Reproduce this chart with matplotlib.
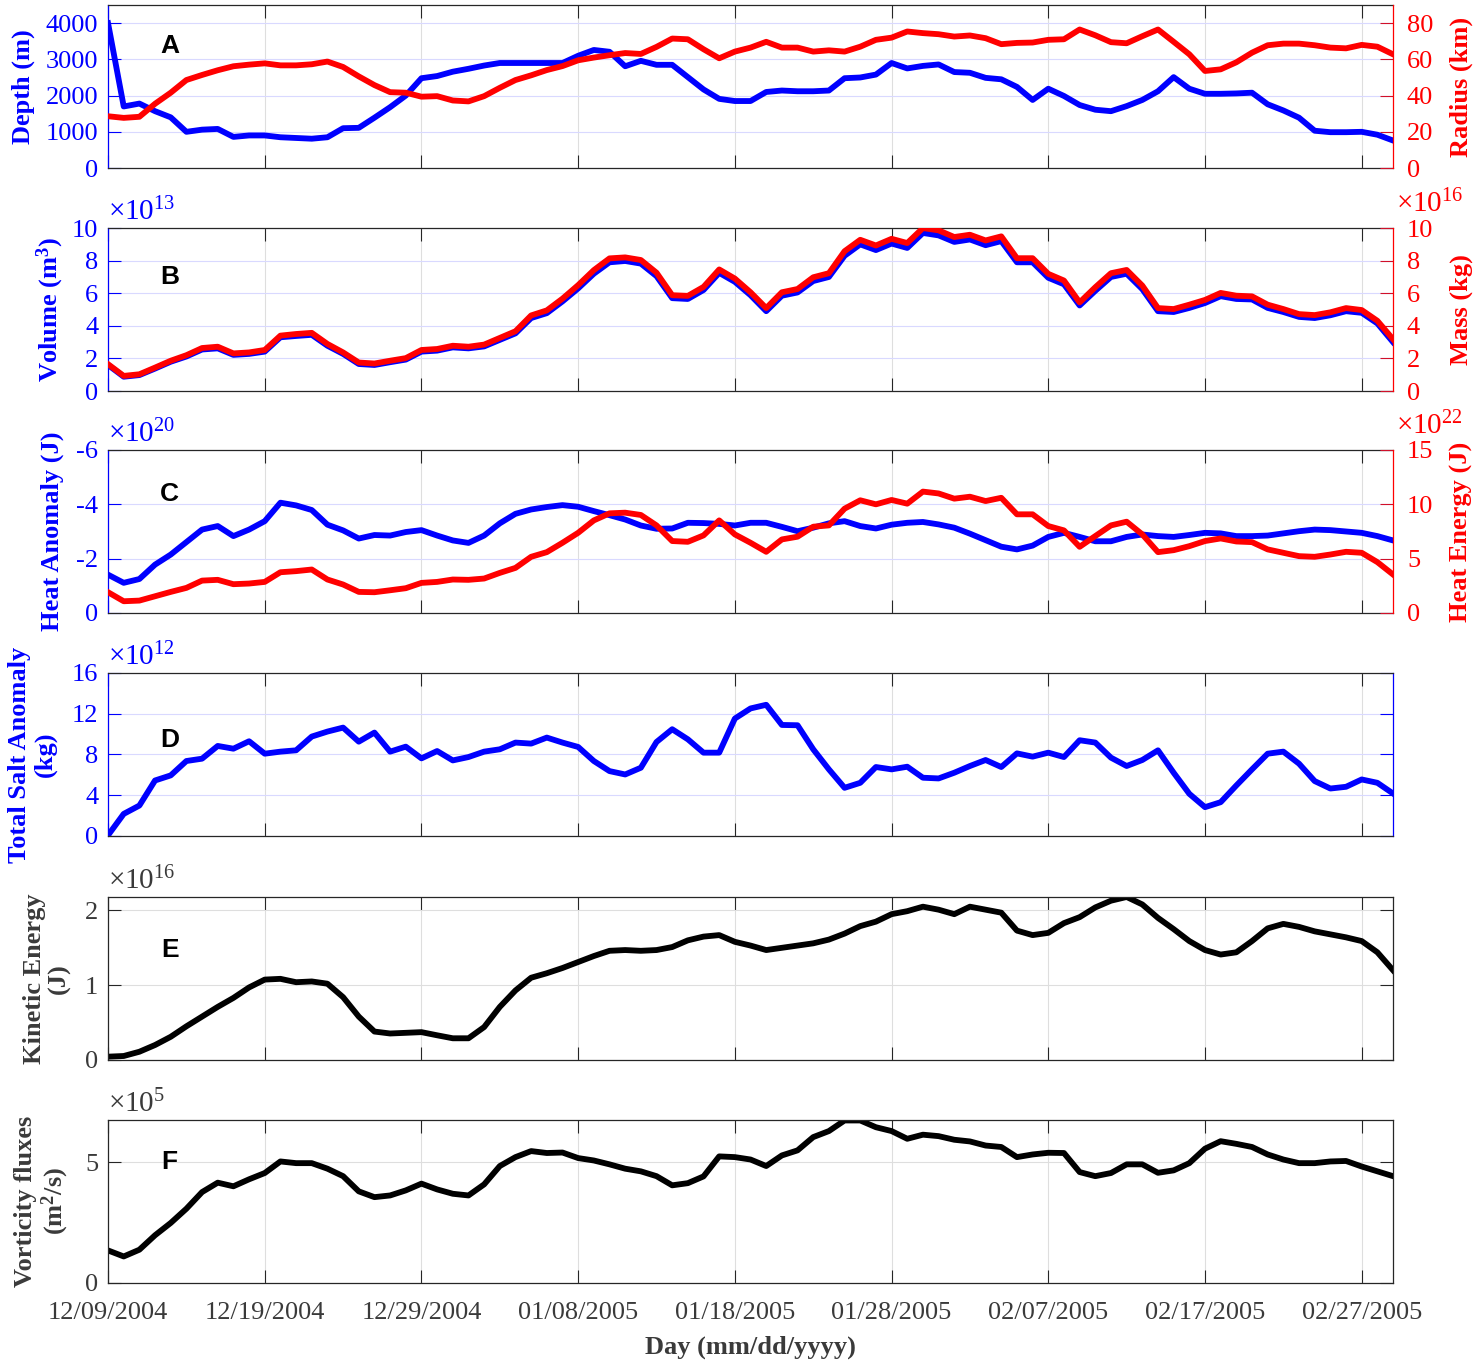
import numpy as np
import pandas as pd
import matplotlib
matplotlib.use('Agg')
import matplotlib.pyplot as plt
import matplotlib.dates as mdates
from matplotlib.ticker import FuncFormatter

plt.rcParams['font.family'] = ['Liberation Serif', 'DejaVu Serif']
plt.rcParams['mathtext.fontset'] = 'custom'
plt.rcParams['mathtext.rm'] = 'Liberation Serif'
plt.rcParams['mathtext.it'] = 'Liberation Serif:italic'
plt.rcParams['mathtext.bf'] = 'Liberation Serif:bold'
plt.rcParams['axes.unicode_minus'] = False

# daily values, 12/09/2004 .. 03/01/2005
days = pd.date_range('2004-12-09', periods=83, freq='D')
tick_days = pd.date_range('2004-12-09', '2005-02-27', freq='10D')

depth = [4000, 1700, 1780, 1570, 1400, 1000, 1060, 1080, 860, 900,
         900, 850, 830, 810, 850, 1100, 1110, 1390, 1680, 2000,
         2480, 2540, 2660, 2740, 2830, 2900, 2900, 2900, 2900, 2900,
         3100, 3260, 3210, 2810, 2960, 2850, 2850, 2510, 2170, 1910,
         1850, 1850, 2100, 2140, 2120, 2120, 2140, 2480, 2500, 2580,
         2900, 2750, 2820, 2860, 2650, 2630, 2490, 2450, 2240, 1880,
         2190, 1990, 1740, 1610, 1570, 1710, 1880, 2120, 2510, 2190,
         2050, 2050, 2060, 2080, 1760, 1590, 1390, 1030, 990, 990,
         1000, 920, 760]
radius = [28.6, 27.7, 28.3, 35.5, 41.6, 48.6, 51.4, 54.0, 56.2, 57.1,
          57.8, 56.7, 56.7, 57.3, 58.8, 55.8, 50.6, 45.8, 41.9, 41.6,
          39.4, 39.7, 37.3, 36.8, 39.7, 44.3, 48.6, 51.2, 54.1, 56.3,
          59.5, 61.0, 62.3, 63.5, 63.0, 66.9, 71.5, 71.1, 65.6, 60.6,
          64.3, 66.5, 69.7, 66.5, 66.5, 64.3, 65.0, 64.3, 67.0, 70.8,
          72.0, 75.4, 74.5, 73.9, 72.6, 73.2, 71.7, 68.4, 69.1, 69.3,
          70.8, 71.1, 76.5, 73.3, 69.5, 68.9, 72.8, 76.5, 69.7, 62.8,
          53.6, 54.5, 58.4, 63.7, 67.8, 68.7, 68.7, 67.8, 66.5, 66.1,
          68.0, 67.0, 62.8]

# x 1e13 m^3
volume = [1.6, 0.88, 0.98, 1.38, 1.8, 2.12, 2.55, 2.62, 2.22, 2.28,
          2.42, 3.3, 3.38, 3.45, 2.78, 2.28, 1.66, 1.6, 1.77, 1.93,
          2.42, 2.48, 2.68, 2.62, 2.74, 3.14, 3.54, 4.48, 4.78, 5.5,
          6.3, 7.2, 7.9, 7.98, 7.82, 7.05, 5.7, 5.65, 6.2, 7.25,
          6.7, 5.88, 4.9, 5.85, 6.05, 6.75, 7.0, 8.3, 9.0, 8.65,
          9.05, 8.78, 9.7, 9.55, 9.15, 9.3, 8.95, 9.2, 7.9, 7.9,
          6.95, 6.55, 5.25, 6.15, 7.0, 7.2, 6.25, 4.9, 4.85, 5.1,
          5.4, 5.82, 5.65, 5.62, 5.1, 4.85, 4.55, 4.48, 4.65, 4.9,
          4.8, 4.15, 3.0]
# x 1e16 kg
mass = [1.65, 0.93, 1.03, 1.44, 1.86, 2.2, 2.64, 2.72, 2.31, 2.37,
        2.52, 3.4, 3.5, 3.57, 2.89, 2.37, 1.75, 1.69, 1.86, 2.02,
        2.52, 2.58, 2.78, 2.72, 2.85, 3.26, 3.67, 4.64, 4.95, 5.67,
        6.5, 7.42, 8.14, 8.2, 8.04, 7.26, 5.88, 5.84, 6.39, 7.46,
        6.9, 6.06, 5.09, 6.06, 6.26, 6.98, 7.23, 8.58, 9.28, 8.93,
        9.34, 9.08, 10.0, 9.86, 9.45, 9.59, 9.24, 9.49, 8.15, 8.15,
        7.19, 6.78, 5.44, 6.37, 7.23, 7.43, 6.47, 5.09, 5.03, 5.3,
        5.59, 6.02, 5.85, 5.81, 5.3, 5.03, 4.72, 4.66, 4.83, 5.09,
        4.97, 4.31, 3.18]
# x 1e20 J
heat_anomaly = [-1.41, -1.11, -1.25, -1.78, -2.15, -2.61, -3.07, -3.2, -2.83, -3.07,
                -3.38, -4.06, -3.96, -3.79, -3.25, -3.04, -2.74, -2.87, -2.85, -2.98,
                -3.05, -2.85, -2.67, -2.58, -2.85, -3.3, -3.65, -3.81, -3.9, -3.97,
                -3.91, -3.75, -3.6, -3.44, -3.22, -3.1, -3.11, -3.32, -3.31, -3.28,
                -3.22, -3.32, -3.32, -3.17, -3.01, -3.14, -3.3, -3.38, -3.2, -3.11,
                -3.25, -3.32, -3.35, -3.26, -3.14, -2.92, -2.68, -2.44, -2.34, -2.48,
                -2.8, -2.95, -2.8, -2.64, -2.64, -2.8, -2.89, -2.83, -2.8, -2.87,
                -2.95, -2.93, -2.83, -2.83, -2.85, -2.93, -3.01, -3.07, -3.05, -3.0,
                -2.95, -2.83, -2.67]
# x 1e22 J
heat_energy = [1.91, 1.08, 1.14, 1.54, 1.94, 2.31, 2.98, 3.05, 2.65, 2.71,
               2.86, 3.75, 3.85, 4.0, 3.08, 2.62, 1.94, 1.91, 2.09, 2.28,
               2.77, 2.86, 3.08, 3.05, 3.17, 3.69, 4.15, 5.17, 5.6, 6.46,
               7.38, 8.52, 9.17, 9.23, 9.02, 8.06, 6.62, 6.55, 7.14, 8.52,
               7.23, 6.46, 5.63, 6.77, 7.02, 7.94, 8.06, 9.6, 10.37, 10.0,
               10.4, 10.06, 11.17, 11.0, 10.52, 10.7, 10.3, 10.6, 9.08, 9.08,
               8.0, 7.6, 6.09, 7.08, 8.06, 8.4, 7.23, 5.6, 5.78, 6.15,
               6.62, 6.86, 6.58, 6.52, 5.85, 5.54, 5.23, 5.17, 5.38, 5.63,
               5.54, 4.68, 3.54]
# x 1e12 kg
salt = [0.07, 2.17, 2.99, 5.45, 5.95, 7.36, 7.59, 8.84, 8.57, 9.3,
        8.08, 8.28, 8.41, 9.76, 10.25, 10.64, 9.26, 10.15, 8.28, 8.77,
        7.62, 8.34, 7.42, 7.75, 8.28, 8.51, 9.17, 9.07, 9.66, 9.17,
        8.74, 7.36, 6.37, 6.04, 6.7, 9.23, 10.48, 9.49, 8.18, 8.18,
        11.53, 12.52, 12.88, 10.9, 10.87, 8.51, 6.54, 4.73, 5.22, 6.77,
        6.54, 6.8, 5.72, 5.65, 6.21, 6.87, 7.46, 6.77, 8.11, 7.79,
        8.18, 7.75, 9.4, 9.17, 7.69, 6.87, 7.46, 8.41, 6.21, 4.14,
        2.83, 3.32, 4.96, 6.54, 8.08, 8.28, 7.1, 5.39, 4.66, 4.83,
        5.55, 5.22, 4.17]
# x 1e16 J
kinetic = [0.044, 0.053, 0.11, 0.2, 0.31, 0.45, 0.58, 0.71, 0.83, 0.97,
           1.075, 1.085, 1.04, 1.05, 1.02, 0.84, 0.58, 0.38, 0.354, 0.363,
           0.372, 0.33, 0.29, 0.29, 0.44, 0.71, 0.93, 1.1, 1.16, 1.23,
           1.31, 1.39, 1.46, 1.47, 1.46, 1.47, 1.51, 1.6, 1.65, 1.67,
           1.58, 1.53, 1.47, 1.5, 1.53, 1.56, 1.61, 1.69, 1.79, 1.85,
           1.95, 1.99, 2.05, 2.01, 1.95, 2.05, 2.01, 1.97, 1.73, 1.67,
           1.7, 1.83, 1.91, 2.04, 2.13, 2.18, 2.08, 1.9, 1.75, 1.59,
           1.47, 1.41, 1.44, 1.59, 1.76, 1.82, 1.78, 1.72, 1.68, 1.64,
           1.59, 1.44, 1.2]
# x 1e5 m^2/s
vorticity = [1.35, 1.1, 1.38, 1.98, 2.49, 3.08, 3.77, 4.16, 4.01, 4.3,
             4.56, 5.04, 4.97, 4.97, 4.74, 4.43, 3.8, 3.56, 3.63, 3.84,
             4.12, 3.88, 3.7, 3.63, 4.09, 4.85, 5.22, 5.47, 5.39, 5.41,
             5.18, 5.08, 4.92, 4.74, 4.63, 4.43, 4.05, 4.14, 4.42, 5.25,
             5.22, 5.12, 4.85, 5.29, 5.5, 6.05, 6.3, 6.74, 6.74, 6.46,
             6.3, 5.98, 6.15, 6.09, 5.94, 5.87, 5.7, 5.64, 5.22, 5.33,
             5.4, 5.39, 4.6, 4.43, 4.56, 4.92, 4.92, 4.57, 4.67, 4.97,
             5.57, 5.88, 5.77, 5.64, 5.33, 5.12, 4.97, 4.97, 5.04, 5.06,
             4.83, 4.63, 4.43]

BLUE = '#0000ff'
RED = '#ff0000'
K = '#262626'
G = '#3a3a3a'
LW = 4.2
FS = 19

fig = plt.figure(figsize=(14.76, 13.64), dpi=100)
left, width, height = 0.0732, 0.8706, 0.1195
bottoms = [0.8768, 0.7133, 0.5506, 0.3871, 0.2229, 0.0594]
axs = [fig.add_axes([left, b, width, height]) for b in bottoms]

fmt = FuncFormatter(lambda v, p: '%g' % v)


def base_style(ax, ycol, gridcol, last=False):
    ax.set_xlim(days[0], days[-1])
    ax.set_xticks(tick_days)
    ax.xaxis.set_major_formatter(mdates.DateFormatter('%m/%d/%Y'))
    ax.tick_params(axis='x', direction='in', length=9.3, width=0.8, top=True,
                   color=K, labelcolor=G, labelsize=FS, pad=14,
                   labelbottom=last)
    ax.tick_params(axis='y', direction='in', length=9.3, width=0.8,
                   color=ycol, labelcolor=ycol, labelsize=FS, pad=7)
    ax.yaxis.set_major_formatter(fmt)
    ax.xaxis.grid(True, color='#dedede', lw=0.8)
    ax.yaxis.grid(True, color=gridcol, lw=0.8)
    ax.set_axisbelow(True)
    for s in ['top', 'bottom']:
        ax.spines[s].set_color(K)
        ax.spines[s].set_linewidth(0.9)
    ax.spines['left'].set_color(ycol)
    ax.spines['left'].set_linewidth(0.9)
    ax.spines['right'].set_linewidth(0.9)


def right_axis(ax):
    ax2 = ax.twinx()
    ax.spines['right'].set_visible(False)
    for s in ['left', 'top', 'bottom']:
        ax2.spines[s].set_visible(False)
    ax2.spines['right'].set_color(RED)
    ax2.spines['right'].set_linewidth(0.9)
    ax2.tick_params(axis='y', direction='in', length=9.3, width=0.8,
                    color='#d0102a', labelcolor=RED, labelsize=FS, pad=10)
    ax2.yaxis.set_major_formatter(fmt)
    return ax2


def expo(ax, txt, color, side='left'):
    if side == 'left':
        ax.text(0.0, 1.045, txt, transform=ax.transAxes, color=color,
                fontsize=FS + 2, ha='left', va='baseline')
    else:
        ax.text(1.002, 1.095, txt, transform=ax.transAxes, color=color,
                fontsize=FS + 2, ha='left', va='baseline')


def letter(ax, s, y):
    ax.text(0.048, y, s, transform=ax.transAxes, fontsize=FS,
            fontweight='bold', family='Liberation Sans', ha='center',
            va='center', color='black')


# A
ax = axs[0]
base_style(ax, BLUE, '#d9d9ff')
ax.plot(days, depth, color=BLUE, lw=LW)
ax.set_ylim(0, 4500)
ax.set_yticks([0, 1000, 2000, 3000, 4000])
ax.set_ylabel('Depth (m)', color=BLUE, fontsize=FS, fontweight='bold',
              labelpad=7.5)
ax2 = right_axis(ax)
ax2.plot(days, radius, color=RED, lw=LW)
ax2.set_ylim(0, 90)
ax2.set_yticks([0, 20, 40, 60, 80])
ax2.set_ylabel('Radius (km)', color=RED, fontsize=FS, fontweight='bold',
               labelpad=12)
letter(ax, 'A', 0.75)

# B
ax = axs[1]
base_style(ax, BLUE, '#d9d9ff')
ax.plot(days, volume, color=BLUE, lw=LW)
ax.set_ylim(0, 10)
ax.set_yticks([0, 2, 4, 6, 8, 10])
ax.set_ylabel(r'Volume (m$^\mathbf{3}$)', color=BLUE, fontsize=FS,
              fontweight='bold', labelpad=4)
expo(ax, r'$\times10^{13}$', BLUE)
ax2 = right_axis(ax)
ax2.plot(days, mass, color=RED, lw=LW)
ax2.set_ylim(0, 10)
ax2.set_yticks([0, 2, 4, 6, 8, 10])
ax2.set_ylabel('Mass (kg)', color=RED, fontsize=FS, fontweight='bold',
               labelpad=12)
expo(ax2, r'$\times10^{16}$', RED, 'right')
letter(ax, 'B', 0.70)

# C
ax = axs[2]
base_style(ax, BLUE, '#d9d9ff')
ax.plot(days, heat_anomaly, color=BLUE, lw=LW)
ax.set_ylim(0, -6)
ax.set_yticks([-6, -4, -2, 0])
ax.set_ylabel('Heat Anomaly (J)', color=BLUE, fontsize=FS, fontweight='bold',
              labelpad=9)
expo(ax, r'$\times10^{20}$', BLUE)
ax2 = right_axis(ax)
ax2.plot(days, heat_energy, color=RED, lw=LW)
ax2.set_ylim(0, 15)
ax2.set_yticks([0, 5, 10, 15])
ax2.set_ylabel('Heat Energy (J)', color=RED, fontsize=FS, fontweight='bold',
               labelpad=12)
expo(ax2, r'$\times10^{22}$', RED, 'right')
letter(ax, 'C', 0.73)

# D
ax = axs[3]
base_style(ax, BLUE, '#d9d9ff')
ax.spines['right'].set_color(BLUE)
ax.tick_params(axis='y', right=True)
ax.plot(days, salt, color=BLUE, lw=LW)
ax.set_ylim(0, 16)
ax.set_yticks([0, 4, 8, 12, 16])
ax.set_ylabel('Total Salt Anomaly\n(kg)', color=BLUE, fontsize=FS,
              fontweight='bold', linespacing=1.1, labelpad=11)
expo(ax, r'$\times10^{12}$', BLUE)
letter(ax, 'D', 0.59)

# E
ax = axs[4]
base_style(ax, K, '#dedede')
ax.spines['right'].set_color(K)
ax.tick_params(axis='y', right=True, labelcolor=G)
ax.plot(days, kinetic, color='black', lw=LW)
ax.set_ylim(0, 2.18)
ax.set_yticks([0, 1, 2])
ax.set_ylabel('Kinetic Energy\n(J)', color=G, fontsize=FS,
              fontweight='bold', linespacing=1.1, labelpad=10)
expo(ax, r'$\times10^{16}$', G)
letter(ax, 'E', 0.675)

# F
ax = axs[5]
base_style(ax, K, '#dedede', last=True)
ax.spines['right'].set_color(K)
ax.tick_params(axis='y', right=True, labelcolor=G)
ax.plot(days, vorticity, color='black', lw=LW)
ax.set_ylim(0, 6.76)
ax.set_yticks([0, 5])
ax.set_ylabel('Vorticity fluxes\n' + r'(m$^\mathbf{2}$/s)', color=G,
              fontsize=FS, fontweight='bold', linespacing=1.1, labelpad=10.5)
ax.set_xlabel('Day (mm/dd/yyyy)', color=G, fontsize=FS,
              fontweight='bold', labelpad=8)
expo(ax, r'$\times10^{5}$', G)
letter(ax, 'F', 0.74)

fig.savefig('out.png', dpi=100)
